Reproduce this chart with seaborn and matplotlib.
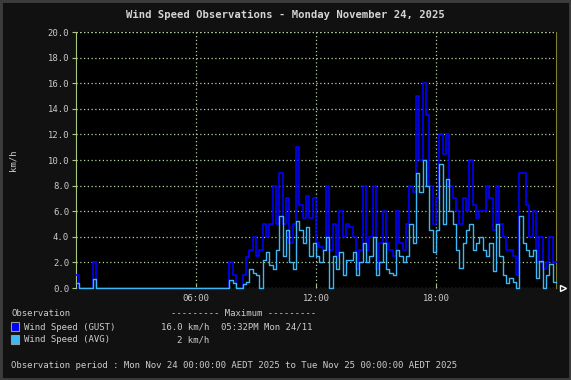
import numpy as np
import pandas as pd
import matplotlib
matplotlib.use('Agg')
import matplotlib.pyplot as plt
from matplotlib.patches import Rectangle
import seaborn as sns

# 10-minute readings, 00:00 -> 23:50 (km/h)
gust = [1.0, 0, 0, 0, 0, 2.0] + [0] * 40 + [
    2.0, 1.0, 0, 0, 1.0, 2.4, 3.0, 4.0, 2.5, 3.0,      # 07:40
    5.0, 4.0, 5.0, 8.0, 5.0, 9.0, 5.0, 7.0, 3.5, 5.0,  # 09:20
    11.0, 6.5, 5.5, 7.2, 5.5, 7.0, 3.5, 3.2, 3.0, 8.0,  # 11:00
    3.0, 5.0, 2.5, 6.0, 4.0, 5.0, 4.8, 4.0, 1.5, 3.0,  # 12:40
    8.0, 3.0, 4.0, 8.0, 1.5, 3.5, 6.0, 3.5, 3.0, 2.5,  # 14:20
    6.0, 3.5, 3.0, 5.0, 8.0, 7.5, 15.0, 10.0, 16.0, 13.5,  # 16:00
    8.0, 5.0, 7.0, 12.0, 10.5, 12.0, 8.0, 7.0, 6.0, 5.0,   # 17:40
    7.0, 6.0, 10.0, 6.5, 5.5, 6.0, 6.0, 8.0, 7.0, 4.5,     # 19:20
    8.0, 5.0, 4.0, 3.0, 3.0, 2.5, 1.0, 9.0, 9.0, 6.5,      # 21:00
    4.0, 6.0, 2.0, 4.0, 1.5, 2.0, 4.0, 2.0]                # 22:40
avg = [0.4, 0, 0, 0, 0, 0.7] + [0] * 40 + [
    0.6, 0.4, 0, 0, 0.3, 0.5, 1.5, 1.2, 1.0, 0,
    2.2, 2.8, 1.8, 1.5, 3.0, 5.6, 2.5, 4.5, 2.0, 1.5,
    5.2, 4.5, 3.5, 4.8, 2.5, 3.5, 2.5, 2.0, 3.0, 4.0,
    0, 2.5, 1.5, 2.8, 1.0, 2.2, 2.2, 2.8, 1.0, 2.0,
    3.5, 2.0, 2.5, 4.0, 1.0, 2.0, 3.5, 1.5, 1.2, 1.0,
    3.0, 2.5, 2.0, 2.5, 5.0, 3.5, 9.0, 7.5, 10.0, 8.0,
    4.5, 2.8, 4.5, 9.7, 5.0, 8.5, 6.0, 5.0, 3.0, 1.6,
    3.5, 4.5, 5.0, 3.0, 3.5, 4.0, 3.0, 2.5, 3.5, 1.3,
    5.0, 2.5, 1.0, 0.4, 0.8, 0.5, 0, 5.6, 3.5, 3.0,
    2.5, 3.0, 0.8, 2.1, 0, 1.0, 1.9, 0.5]
hours = np.arange(len(gust)) / 6.0

y_ticks = np.arange(0, 21, 2)
x_ticks = [6, 12, 18]
x_labels = ['06:00', '12:00', '18:00']

# repeat the last reading at 24:00 so the step reaches the edge
df = pd.DataFrame({'hour': np.append(hours, 24.0),
                   'gust': gust + [gust[-1]],
                   'avg': avg + [avg[-1]]})

W, H = 571, 380
fig = plt.figure(figsize=(W / 100, H / 100), dpi=100)
fig.patch.set_facecolor('#111111')
fig.patches.append(Rectangle((0, 0), 1, 1, transform=fig.transFigure,
                             fill=False, edgecolor='#3c3c3c', lw=3.5))

ax = fig.add_axes([76 / W, 1 - 288 / H, 480 / W, 256 / H])
ax.set_facecolor('black')

gust_c = '#0000ff'
avg_c = '#3cb8f8'
sns.lineplot(data=df, x='hour', y='gust', ax=ax, color=gust_c, lw=1.2,
             drawstyle='steps-post', zorder=3, clip_on=False)
sns.lineplot(data=df, x='hour', y='avg', ax=ax, color=avg_c, lw=1.0,
             drawstyle='steps-post', zorder=4, clip_on=False)

ax.set_xlim(0, 24)
ax.set_ylim(0, 20)
ax.set_yticks(y_ticks)
ax.set_yticklabels([f'{v:.1f}' for v in y_ticks])
ax.set_xticks(x_ticks)
ax.set_xticklabels(x_labels)
ax.set_xlabel('')
ax.set_ylabel('')

grid_c = '#b4d4a0'
ax.grid(True, color=grid_c, linestyle=(0, (1, 2)), lw=0.9)
ax.set_axisbelow(True)
for s in ['top', 'bottom']:
    ax.spines[s].set_visible(False)
ax.spines['left'].set_color('#a8c880')
ax.spines['right'].set_color('#808030')
ax.axhline(20, color=grid_c, linestyle=(0, (1, 2)), lw=0.9, zorder=1)
ax.plot([24.35], [0], marker='>', mfc='none', mec='white', ms=5,
        clip_on=False, zorder=5)

mono = 'DejaVu Sans Mono'
txt_c = '#cccccc'
ax.tick_params(axis='y', colors='#a8c880', labelcolor=txt_c, length=3,
               labelsize=6.4, pad=2)
ax.tick_params(axis='x', colors='#a8c880', labelcolor=txt_c, length=3,
               direction='in', labelsize=6.4, pad=4)
for lab in ax.get_xticklabels() + ax.get_yticklabels():
    lab.set_family(mono)


def ftext(x, y, s, **kw):
    kw.setdefault('color', txt_c)
    kw.setdefault('fontsize', 6.5)
    kw.setdefault('family', mono)
    kw.setdefault('va', 'center')
    fig.text(x / W, 1 - y / H, s, **kw)


ftext(W / 2, 15, 'Wind Speed Observations - Monday November 24, 2025',
      ha='center', fontsize=7.6, fontweight='bold', color='#d4d4d4')
ftext(13, 160, 'km/h', rotation=90, ha='center')

ftext(11, 314, 'Observation')
ftext(171, 314, '--------- Maximum ---------')
ftext(24, 327, 'Wind Speed (GUST)')
ftext(24, 340, 'Wind Speed (AVG)')
ftext(209, 327, f'{max(gust):.1f} km/h', ha='right')
ftext(221, 327, '05:32PM Mon 24/11')
ftext(209, 340, '2 km/h', ha='right')
ftext(11, 366, 'Observation period : Mon Nov 24 00:00:00 AEDT 2025 '
      'to Tue Nov 25 00:00:00 AEDT 2025')

for yy, c in [(322, gust_c), (335, avg_c)]:
    fig.patches.append(Rectangle((11 / W, 1 - (yy + 9) / H), 8 / W, 9 / H,
                                 transform=fig.transFigure, facecolor=c,
                                 edgecolor='#999999', lw=0.8))

fig.savefig('out.png', dpi=100, facecolor=fig.get_facecolor())
